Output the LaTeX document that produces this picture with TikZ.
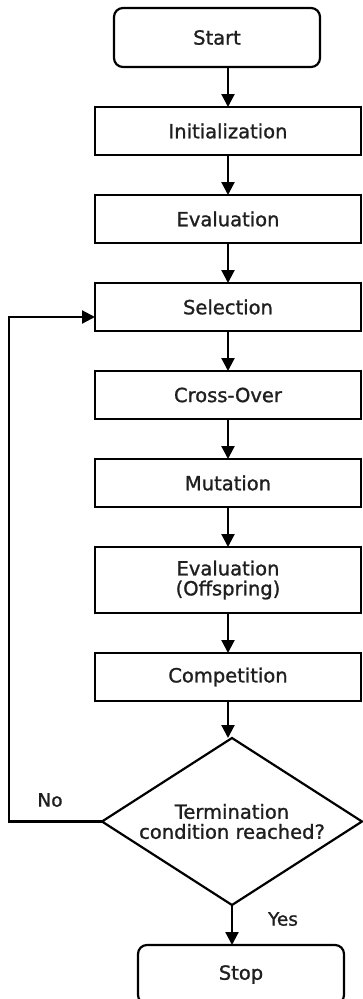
\documentclass[tikz,border=0pt]{standalone}
\usepackage{fontspec}
\newfontfamily\flowfont[FakeBold=1.2]{DejaVu Sans}
\usetikzlibrary{shapes.geometric, arrows.meta, positioning}

\begin{document}
\begin{tikzpicture}[
    x=1pt, y=-1pt,
    node distance=40pt,
    every node/.style={font=\flowfont\fontsize{19.5}{20}\selectfont, text=black!88},
    box/.style={draw, line width=2.2pt, outer sep=0pt, minimum width=266pt, minimum height=48pt, align=center, inner sep=2pt},
    term/.style={box, rounded corners=9pt, minimum width=206pt, minimum height=59pt},
    cond/.style={draw, diamond, line width=2.2pt, outer sep=0pt, aspect=1.56, minimum width=260pt, minimum height=167pt, inner sep=1pt, align=center},
    arr/.style={-{Triangle[width=13pt, length=13pt]}, line width=2.2pt},
    lbl/.style={font=\flowfont\fontsize{18.5}{20}\selectfont}
]
    \useasboundingbox (0,0) rectangle (363,999);

    % Start and set-up
    \node[term] (start) at (217,37.5) {Start};
    \node[box, below=of start, xshift=11pt] (init) {Initialization};
    \node[box, below=of init] (eval) {Evaluation};

    % Generation loop
    \node[box, below=of eval] (select) {Selection};
    \node[box, below=of select] (cross) {Cross-Over};
    \node[box, below=of cross] (mutate) {Mutation};
    \node[box, below=of mutate, minimum height=66pt] (evaloff) {Evaluation\\(Offspring)};
    \node[box, below=of evaloff] (compet) {Competition};

    % Termination check
    \node[cond, below=37pt of compet, xshift=4pt] (check) {Termination\\condition reached?};
    \node[term, below=of check, xshift=9pt] (stop) {Stop};

    % Labels
    \node[lbl] (no) at (50,800) {No};
    \node[lbl] (yes) at (283,919) {Yes};

    % Arrows
    \draw[arr] (start.south -| init.north) -- (init.north);
    \draw[arr] (init) -- (eval);
    \draw[arr] (eval) -- (select);
    \draw[arr] (select) -- (cross);
    \draw[arr] (cross) -- (mutate);
    \draw[arr] (mutate) -- (evaloff);
    \draw[arr] (evaloff) -- (compet);
    \draw[arr] (compet.south) -- (compet.south |- check.north);
    \draw[arr] (check.south) -- (check.south |- stop.north);

    % Back to selection
    \draw[arr] (check.west) -- ++(-93,0) |- ([yshift=-10pt]select.west);
\end{tikzpicture}
\end{document}
